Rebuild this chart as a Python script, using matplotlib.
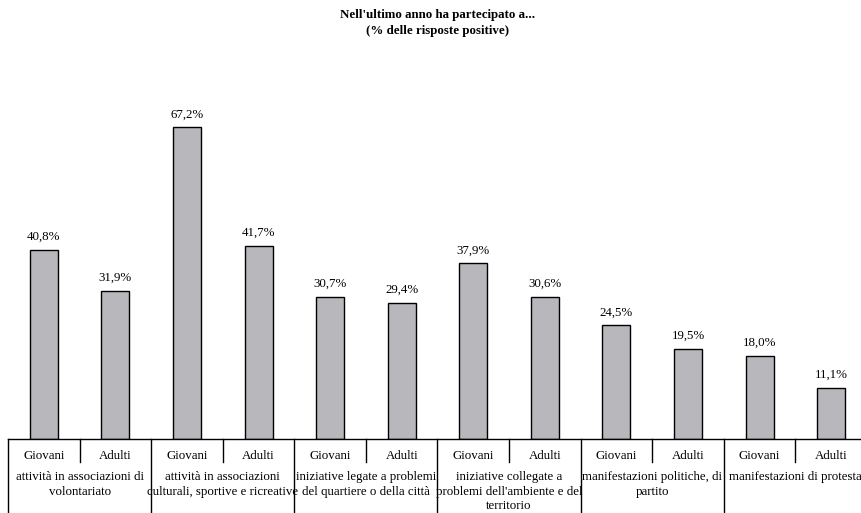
import matplotlib.pyplot as plt
import numpy as np

# ── Data ──────────────────────────────────────────────────────────────────────

groups = [
    "attività in associazioni di\nvolontariato",
    "attività in associazioni\nculturali, sportive e ricreative",
    "iniziative legate a problemi\ndel quartiere o della città",
    "iniziative collegate a\nproblemi dell'ambiente e del\nterritorio",
    "manifestazioni politiche, di\npartito",
    "manifestazioni di protesta",
]
subgroups = ["Giovani", "Adulti"]
giovani = [40.8, 67.2, 30.7, 37.9, 24.5, 18.0]
adulti = [31.9, 41.7, 29.4, 30.6, 19.5, 11.1]

title = "Nell'ultimo anno ha partecipato a...\n(% delle risposte positive)"

# ── Plot ──────────────────────────────────────────────────────────────────────

plt.rcParams['font.family'] = ['Liberation Serif', 'DejaVu Serif']
FS = 9.3

fig = plt.figure(figsize=(8.62, 5.13), dpi=100)
ax = fig.add_axes([8 / 862, 74 / 513, 859 / 862, 371 / 513])
h = 371.0  # axes height in px

values = []
for g, a in zip(giovani, adulti):
    values += [g, a]
x = np.arange(len(values))

ax.bar(x, values, width=0.39, color="#B8B8BC", edgecolor="black", linewidth=1)
for xi, v in zip(x, values):
    ax.annotate(f"{v:.1f}%".replace(".", ","), (xi, v), xytext=(0, 5),
                textcoords="offset points", ha="center", va="bottom", fontsize=FS)

ax.set_xlim(-0.5, len(values) - 0.5)
ax.set_ylim(0, 80)
for s in ["top", "left", "right"]:
    ax.spines[s].set_visible(False)
ax.spines["bottom"].set_linewidth(1)
ax.set_yticks([])
ax.set_xticks([])

tr = ax.get_xaxis_transform()
# group separators and sub ticks
for i in range(len(groups) + 1):
    ax.plot([2 * i - 0.5] * 2, [0, -80 / h], transform=tr, color="black",
            lw=1, clip_on=False)
for i in range(len(groups)):
    ax.plot([2 * i + 0.5] * 2, [0, -23 / h], transform=tr, color="black",
            lw=1, clip_on=False)
    for j, s in enumerate(subgroups):
        ax.text(2 * i + j, -17 / h, s, transform=tr, ha="center", va="center",
                fontsize=FS)
    ax.text(2 * i + 0.5, -32 / h, groups[i], transform=tr, ha="center",
            va="top", fontsize=FS, linespacing=1.28)

ax.text(0.5, (439 - 23) / h, title, transform=ax.transAxes, ha="center",
        va="center", fontsize=FS, fontweight="bold", linespacing=1.35)

plt.savefig("out.png", dpi=100)
